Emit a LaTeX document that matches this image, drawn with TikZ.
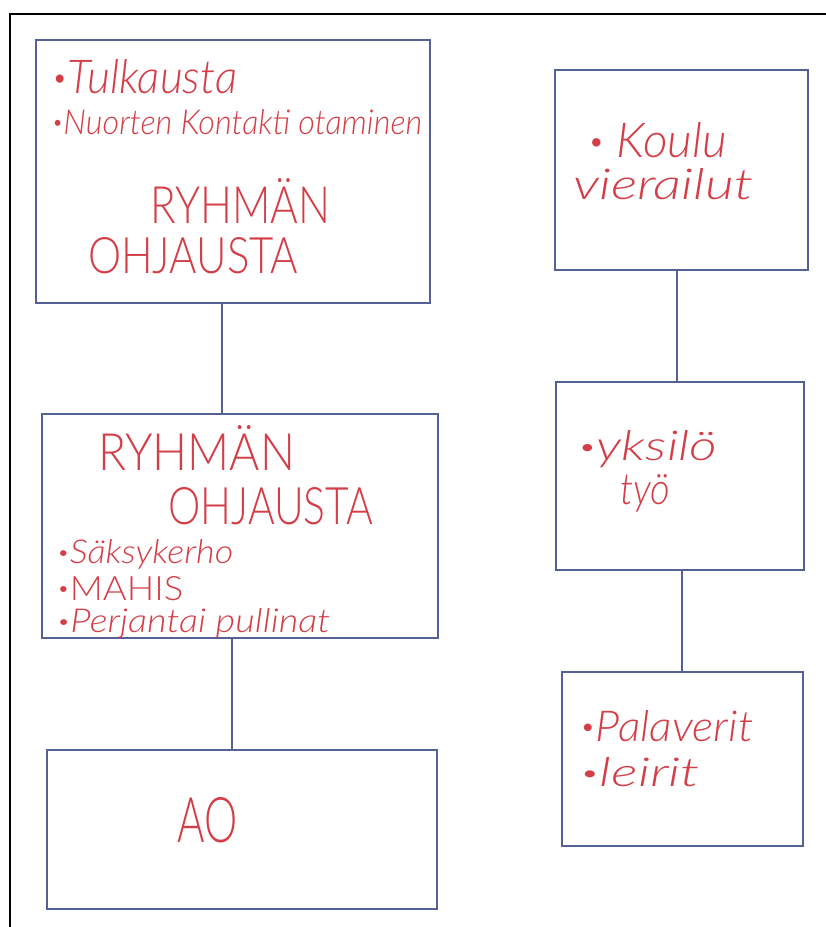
\documentclass[tikz,border=0pt]{standalone}
\usepackage{fontspec}
\usepackage{graphicx}
\setmainfont{Lato}[UprightFont={* Light}, ItalicFont={* Light Italic}]
\definecolor{ink}{RGB}{212,62,72}
\definecolor{pen}{RGB}{84,96,150}
% handwritten label squeezed to a given width and height (in pt)
\newcommand\hw[3]{\resizebox{#1pt}{#2pt}{#3}}
% small pen dot used as a bullet
\newcommand\bul{\raisebox{0.12em}{\scalebox{0.6}{•}}}
\begin{document}
\begin{tikzpicture}[x=1pt,y=-1pt,
  box/.style={draw=pen, line width=1.1pt, rectangle, inner sep=0pt},
  link/.style={draw=pen, line width=1.1pt},
  hand/.style={text=ink, inner sep=0pt, anchor=base west, font=\itshape},
  caps/.style={text=ink, inner sep=0pt, anchor=base west, font=\upshape}]
\useasboundingbox (0,0) rectangle (826,927);
\fill[white] (0,0) rectangle (826,927);
% page frame
\draw[line width=2.2pt] (10,927) -- (10,14) -- (826,14);

% boxes, left column
\node[box, minimum width=394pt, minimum height=263pt] (b1) at (233,171.5) {};
\node[box, minimum width=396pt, minimum height=224pt] (b2) at (240,526) {};
\node[box, minimum width=390pt, minimum height=159pt] (b3) at (242,829.5) {};
% boxes, right column
\node[box, minimum width=253pt, minimum height=200pt] (b4) at (681.5,170) {};
\node[box, minimum width=248pt, minimum height=188pt] (b5) at (680,476) {};
\node[box, minimum width=241pt, minimum height=174pt] (b6) at (682.5,759) {};

% connector columns
\coordinate (k1) at (222,0);
\coordinate (k2) at (232,0);
\coordinate (k3) at (677,0);
\coordinate (k4) at (682,0);
\draw[link] (b1.south -| k1) -- (b2.north -| k1);
\draw[link] (b2.south -| k2) -- (b3.north -| k2);
\draw[link] (b4.south -| k3) -- (b5.north -| k3);
\draw[link] (b5.south -| k4) -- (b6.north -| k4);

% texts, first box
\node[hand] (t1) at (52,93)  {\hw{185}{34}{\bul Tulkausta}};
\node[hand] (t2) at (52,134) {\hw{370}{25}{\bul Nuorten Kontakti otaminen}};
\node[caps] (t3) at (150,223) {\hw{180}{45}{RYHMÄN}};
\node[caps] (t4) at (88,273)  {\hw{210}{36}{OHJAUSTA}};
% second box
\node[caps] (t5) at (98,470)  {\hw{197}{45}{RYHMÄN}};
\node[caps] (t6) at (168,524) {\hw{205}{37}{OHJAUSTA}};
\node[hand] (t7) at (57,563)  {\hw{176}{24}{\bul Säksykerho}};
\node[caps] (t8) at (57,600)  {\hw{126}{24}{\bul MAHIS}};
\node[hand] (t9) at (57,632)  {\hw{273}{24}{\bul Perjantai pullinat}};
% third box
\node[caps] (t10) at (177,842) {\hw{60}{45}{AO}};
% right column
\node[hand] (t11) at (588,157) {\hw{139}{35}{\bul\ Koulu}};
\node[hand] (t12) at (573,199) {\hw{180}{31}{vierailut}};
\node[hand] (t13) at (578,460) {\hw{139}{30}{\bul yksilö}};
\node[hand] (t14) at (620,504) {\hw{50}{30}{työ}};
\node[hand] (t15) at (580,741) {\hw{173}{31}{\bul Palaverit}};
\node[hand] (t16) at (580,786) {\hw{120}{29}{\bul leirit}};
\end{tikzpicture}
\end{document}
